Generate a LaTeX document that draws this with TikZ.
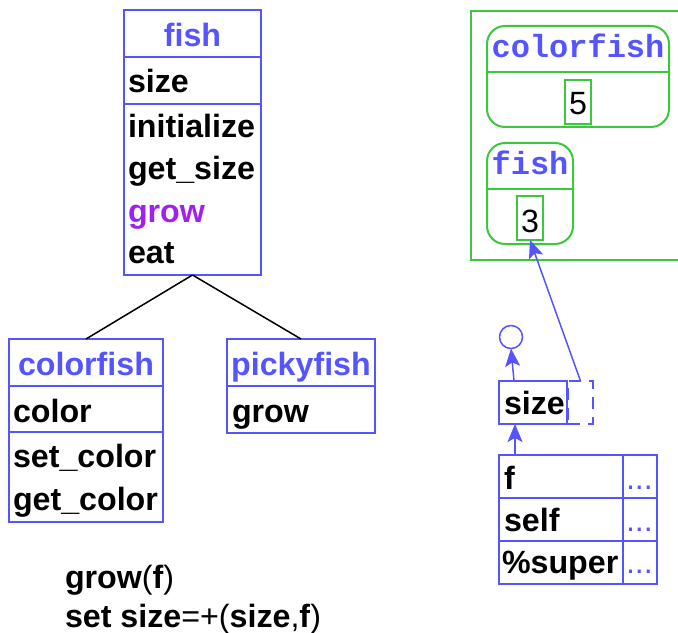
\documentclass[tikz,border=0pt]{standalone}
\usepackage{fontspec}
\setmainfont{Liberation Sans}
\setmonofont{Liberation Mono}
\usetikzlibrary{arrows.meta}
\definecolor{ublue}{RGB}{85,85,255}
\definecolor{upurple}{RGB}{160,32,240}
\definecolor{ugreen}{RGB}{60,200,60}
\begin{document}
\begin{tikzpicture}[x=1bp,y=-1bp,
  every node/.style={inner sep=0pt, outer sep=0pt, font=\fontsize{32.2bp}{38bp}\selectfont},
  box/.style={draw=ublue, line width=2bp, rectangle, inner sep=0pt},
  divl/.style={draw=ublue, line width=2bp},
  lbl/.style={anchor=base west, font=\fontsize{32.2bp}{38bp}\selectfont\bfseries},
  ttl/.style={anchor=base, text=ublue, font=\fontsize{32.2bp}{38bp}\selectfont\bfseries},
  gbox/.style={draw=ugreen, line width=2bp, rounded corners=18bp},
  gline/.style={draw=ugreen, line width=2bp},
  mono/.style={anchor=base, text=ublue, font=\fontsize{32bp}{38bp}\selectfont\ttfamily\bfseries},
  val/.style={draw=ugreen, line width=2bp, inner sep=0pt},
  arr/.style={draw=ublue, line width=1.5bp, -{Stealth[length=18bp,width=15bp,inset=4bp]}},
  dots/.style={anchor=base west, text=ublue, font=\fontsize{32.2bp}{38bp}\selectfont}
]
\useasboundingbox (0,0) rectangle (678,633);

% ---- fish class ----
\node[box, minimum width=137bp, minimum height=265bp] (fishbox) at (192.5,142.5) {};
\draw[divl] (124,57) -- (261,57);
\draw[divl] (124,104) -- (261,104);
\node[ttl] (tfish) at (192.5,47) {fish};
\node[lbl] (fsize) at (128,93) {size};
\node[lbl] (finit) at (128,138) {initialize};
\node[lbl] (fget) at (128,180) {get\_size};
\node[lbl, text=upurple] (fgrow) at (128,222) {grow};
\node[lbl] (feat) at (128,263) {eat};

% ---- colorfish class ----
\node[box, minimum width=154bp, minimum height=183bp] (cfbox) at (86,430.5) {};
\draw[divl] (9,386) -- (163,386);
\draw[divl] (9,432) -- (163,432);
\node[ttl] (tcf) at (86,375) {colorfish};
\node[lbl] (ccolor) at (13,422) {color};
\node[lbl] (cset) at (13,467) {set\_color};
\node[lbl] (cget) at (13,510) {get\_color};

% ---- pickyfish class ----
\node[box, minimum width=148bp, minimum height=94bp] (pfbox) at (301,386) {};
\draw[divl] (227,386) -- (375,386);
\node[ttl] (tpf) at (301,375) {pickyfish};
\node[lbl] (pgrow) at (232,422) {grow};

% inheritance lines
\draw[line width=1.5bp] (fishbox.south) -- (cfbox.north);
\draw[line width=1.5bp] (fishbox.south) -- (pfbox.north);

% ---- code text ----
\node[anchor=base west] (code1) at (65,588) {\textbf{grow}(\textbf{f})};
\node[anchor=base west] (code2) at (65,627) {\textbf{set size}=+(\textbf{size},\textbf{f})};

% ---- heap frame ----
\draw[gline] (680,11) -- (471,11) -- (471,260) -- (680,260);
\draw[gbox] (487,26) rectangle (669,127);
\draw[gline] (487,72) -- (669,72);
\node[mono] (mcf) at (578,58) {colorfish};
\node[val, minimum width=26bp, minimum height=44bp] (five) at (578,102) {};
\node[anchor=base] (t5) at (578,115) {5};

\draw[gbox] (487,143) rectangle (573,244);
\draw[gline] (487,189) -- (573,189);
\node[mono] (mf) at (530,175) {fish};
\node[val, minimum width=26bp, minimum height=44bp] (three) at (530,218) {};
\node[anchor=base] (t3) at (530,232) {3};

% ---- size variable ----
\node[draw=ublue, line width=1.5bp, circle, minimum size=23bp] (circ) at (511,337) {};
\node[box, minimum width=68bp, minimum height=43bp] (sizebox) at (533,402.5) {};
\node[lbl] (tsize) at (504,414) {size};
\node[draw=ublue, line width=2bp, dashed, dash pattern=on 12bp off 8bp, minimum width=25bp, minimum height=43bp] (slot) at (580.5,402.5) {};
\coordinate (sztop) at (514,381);
\coordinate (szbot) at (515,424);

% ---- frame table ----
\node[box, minimum width=124bp, minimum height=43bp] (rf) at (561,476.5) {};
\node[box, minimum width=124bp, minimum height=43bp] (rs) at (561,519.5) {};
\node[box, minimum width=124bp, minimum height=43bp] (rp) at (561,562.5) {};
\node[box, minimum width=34bp, minimum height=43bp] (vf) at (640,476.5) {};
\node[box, minimum width=34bp, minimum height=43bp] (vs) at (640,519.5) {};
\node[box, minimum width=34bp, minimum height=43bp] (vp) at (640,562.5) {};
\node[lbl] (tf) at (504,489) {f};
\node[lbl] (tself) at (504,531) {self};
\node[lbl] (tsup) at (502,573) {\%super};
\node[dots] (d1) at (626,489) {...};
\node[dots] (d2) at (626,531) {...};
\node[dots] (d3) at (626,573) {...};
\coordinate (ftop) at (515,455);

% arrows
\draw[arr] (sztop) -- (circ.south);
\draw[arr] (ftop) -- (szbot);
\draw[arr] (slot.north) -- (three.south);
\end{tikzpicture}
\end{document}
